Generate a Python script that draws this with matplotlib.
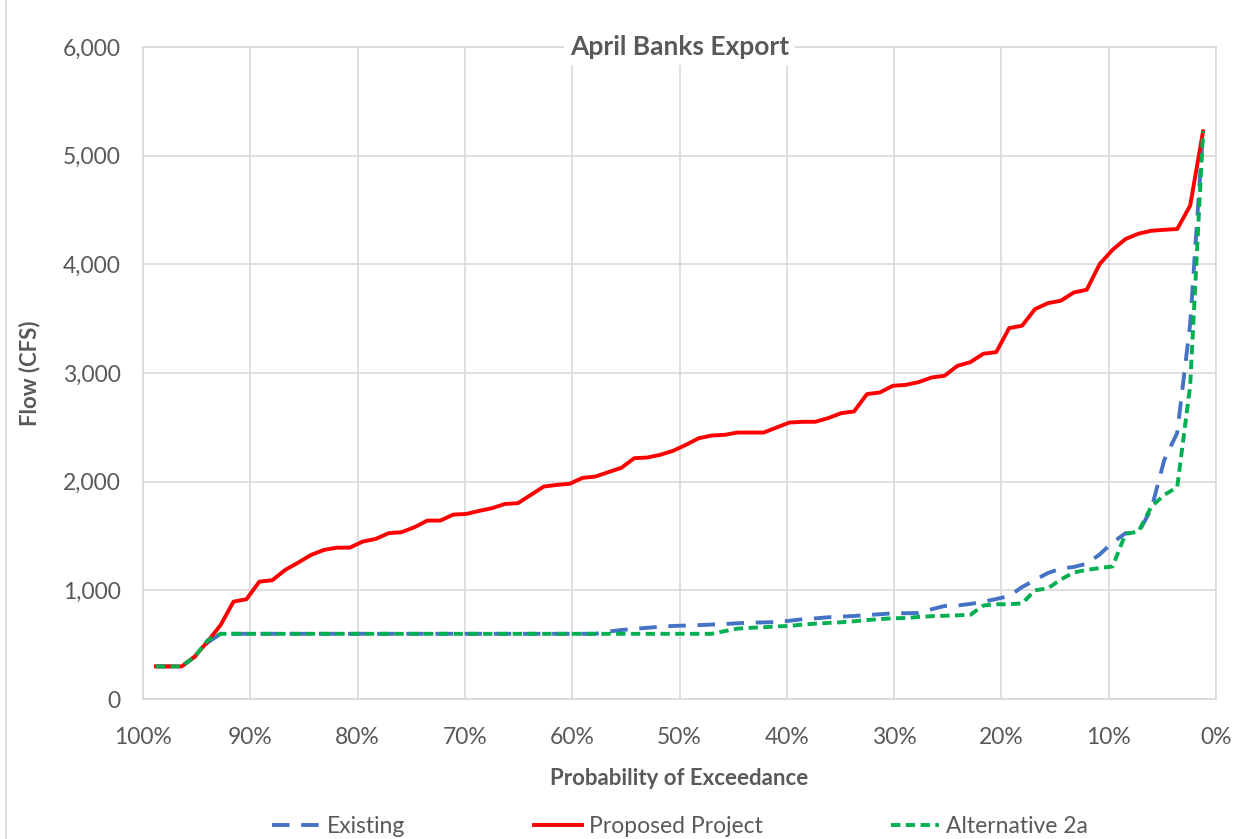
import matplotlib
matplotlib.use("Agg")
import matplotlib.pyplot as plt
from matplotlib.ticker import FuncFormatter
from matplotlib.lines import Line2D

plt.rcParams['font.family'] = ['Lato', 'DejaVu Sans']

# Exceedance rank (i/83), listed from highest probability (left) to lowest (right)
ranks = list(range(82, 0, -1))
n_years = 82

proposed = [300, 300, 300, 390, 530, 680, 896, 918, 1080, 1093,
            1188, 1255, 1326, 1372, 1393, 1393, 1449, 1473, 1526, 1535,
            1581, 1642, 1642, 1697, 1703, 1731, 1756, 1795, 1802, 1878,
            1955, 1970, 1980, 2035, 2047, 2088, 2127, 2216, 2222, 2247,
            2284, 2339, 2400, 2425, 2431, 2452, 2452, 2452, 2498, 2544,
            2551, 2551, 2585, 2630, 2646, 2806, 2821, 2882, 2891, 2916,
            2959, 2974, 3066, 3100, 3177, 3192, 3413, 3435, 3588, 3643,
            3665, 3741, 3766, 4002, 4134, 4233, 4282, 4309, 4318, 4325,
            4540, 5224]

existing = [300, 300, 300, 390, 520, 600, 600, 600, 600, 600,
            600, 600, 600, 600, 600, 600, 600, 600, 600, 600,
            600, 600, 600, 600, 600, 600, 600, 600, 600, 600,
            600, 600, 600, 600, 600, 620, 635, 645, 655, 665,
            672, 676, 680, 685, 690, 697, 703, 705, 708, 720,
            734, 742, 752, 758, 764, 773, 780, 789, 789, 792,
            826, 856, 860, 875, 895, 920, 948, 1030, 1095, 1160,
            1200, 1215, 1245, 1330, 1440, 1526, 1531, 1750, 2200, 2450,
            3450, 5224]

alt2a = [300, 300, 300, 390, 540, 600, 600, 600, 600, 600,
         600, 600, 600, 600, 600, 600, 600, 600, 600, 600,
         600, 600, 600, 600, 600, 600, 600, 600, 600, 600,
         600, 600, 600, 600, 600, 600, 600, 600, 600, 600,
         600, 600, 600, 600, 625, 648, 655, 660, 668, 672,
         685, 693, 700, 706, 715, 727, 735, 743, 745, 755,
         762, 766, 770, 775, 860, 872, 872, 880, 1000, 1019,
         1100, 1165, 1188, 1205, 1220, 1520, 1540, 1771, 1878, 1950,
         2880, 5224]

x_ticks = [1.0, 0.9, 0.8, 0.7, 0.6, 0.5, 0.4, 0.3, 0.2, 0.1, 0.0]
y_ticks = [0, 1000, 2000, 3000, 4000, 5000, 6000]

prob = [r / (n_years + 1) for r in ranks]

fig = plt.figure(figsize=(12.43, 8.39), dpi=100)
ax = fig.add_axes([143/1243, 1 - 699/839, (1216-143)/1243, (699-47)/839])

grey_text = '#595959'
grid_c = '#d9d9d9'

ax.plot(prob, existing, color='#4472C4', lw=2.8, dashes=(4.5, 3), label='Existing', zorder=3)
ax.plot(prob, proposed, color='#FF0000', lw=2.8, label='Proposed Project', zorder=4)
ax.plot(prob, alt2a, color='#00B050', lw=2.8, dashes=(2.4, 1.4), label='Alternative 2a', zorder=5)

ax.set_xlim(1.0, 0.0)
ax.set_ylim(0, 6000)
ax.set_xticks(x_ticks)
ax.set_yticks(y_ticks)
ax.xaxis.set_major_formatter(FuncFormatter(lambda v, p: f"{v*100:.0f}%"))
ax.yaxis.set_major_formatter(FuncFormatter(lambda v, p: f"{v:,.0f}"))
ax.grid(True, color=grid_c, lw=1.2, zorder=0)
ax.set_axisbelow(True)
for s in ax.spines.values():
    s.set_color(grid_c)
    s.set_linewidth(1.2)
ax.tick_params(length=0, labelsize=16.5, colors=grey_text)
ax.tick_params(axis='y', pad=16)
ax.tick_params(axis='x', pad=20)

ax.set_xlabel('Probability of Exceedance', fontsize=16, fontweight='bold',
              color=grey_text)
ax.set_ylabel('Flow (CFS)', fontsize=16, fontweight='bold', color=grey_text)
ax.xaxis.set_label_coords(0.5, (699 - 768) / 652)
ax.yaxis.set_label_coords((40 - 143) / 1073, 0.5)

ax.text(0.5, 6000, 'April Banks Export', ha='center', va='center', fontsize=19,
        fontweight='bold', color=grey_text, zorder=6,
        bbox=dict(facecolor='white', edgecolor='none', pad=4))

fig.add_artist(Line2D([6/1243, 6/1243], [0, 1], color=grid_c, lw=1.2))

leg = fig.legend(loc='lower center', ncol=3, bbox_to_anchor=(0.547, -0.022),
                 frameon=False, fontsize=16.5, columnspacing=5.6, handlelength=2.1,
                 handletextpad=0.3)
for t in leg.get_texts():
    t.set_color(grey_text)

fig.savefig('out.png', dpi=100)
